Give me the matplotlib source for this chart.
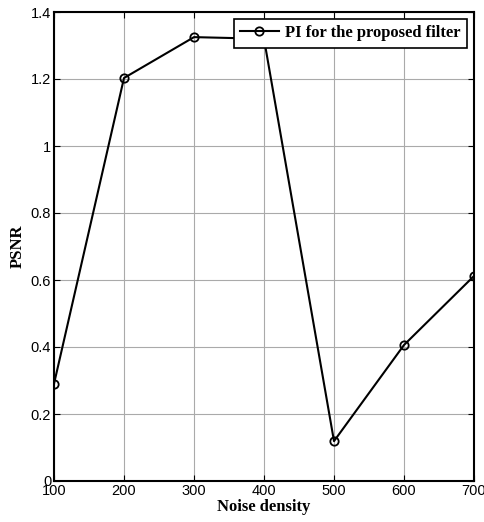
import matplotlib
matplotlib.use('Agg')
import matplotlib.pyplot as plt

noise_density = [100, 200, 300, 400, 500, 600, 700]
psnr = [0.29, 1.203, 1.325, 1.32, 0.119, 0.406, 0.612]
x_ticks = [100, 200, 300, 400, 500, 600, 700]
y_ticks = [0, 0.2, 0.4, 0.6, 0.8, 1, 1.2, 1.4]
y_tick_labels = ['0', '0.2', '0.4', '0.6', '0.8', '1', '1.2', '1.4']

fig = plt.figure(figsize=(4.84, 5.22), dpi=100)
ax = fig.add_axes([54 / 484, 1 - 481 / 522, 420 / 484, 469 / 522])

ax.plot(noise_density, psnr, color='black', lw=1.5, marker='o', markersize=6,
        markerfacecolor='none', markeredgewidth=1.3,
        label='PI for the proposed filter')

ax.set_xlim(100, 700)
ax.set_ylim(0, 1.4)
ax.set_xticks(x_ticks)
ax.set_yticks(y_ticks)
ax.set_yticklabels(y_tick_labels)
ax.grid(True, color='#aaaaaa', lw=0.8)
ax.tick_params(direction='in', length=4, labelsize=10.5, pad=2,
               top=True, right=True)
for lab in ax.get_xticklabels() + ax.get_yticklabels():
    lab.set_family('Liberation Sans')
for s in ax.spines.values():
    s.set_linewidth(1.5)

ax.set_xlabel('Noise density', family='Liberation Serif', fontweight='bold',
              fontsize=12, labelpad=1)
ax.set_ylabel('PSNR', family='Liberation Serif', fontweight='bold',
              fontsize=12, labelpad=4)

leg = ax.legend(loc='upper right', prop={'family': 'Liberation Serif', 'weight': 'bold', 'size': 12},
                fancybox=False, edgecolor='black', framealpha=1, borderpad=0.4,
                handlelength=2.3, handletextpad=0.4, borderaxespad=0.4)
leg.get_frame().set_linewidth(1.2)
leg.set_zorder(5)

fig.savefig('out.png', dpi=100)
